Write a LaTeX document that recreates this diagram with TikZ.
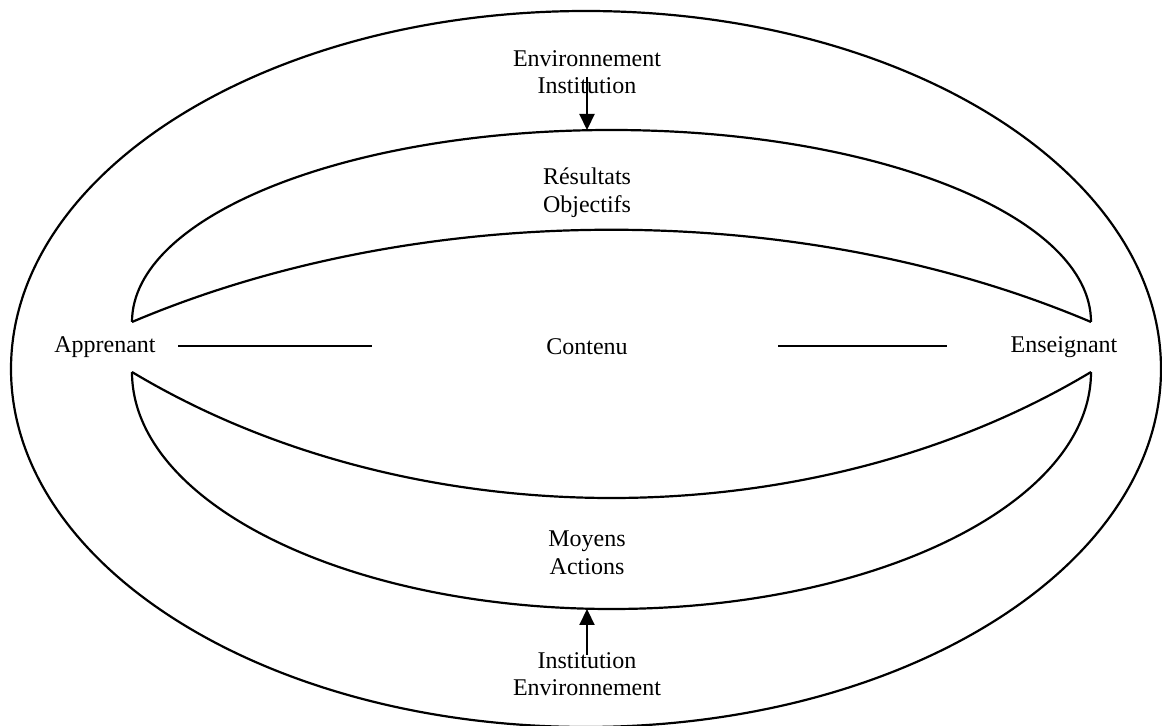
\documentclass[tikz,border=0pt]{standalone}
\usepackage{fontspec}
\setmainfont{Liberation Serif}
\usetikzlibrary{arrows.meta}
\begin{document}
\begin{tikzpicture}[x=0.5pt,y=-0.5pt,line width=1.1pt,
  lbl/.style={font=\fontsize{12}{13.8}\selectfont,align=center,inner sep=0pt},
  flow/.style={-{Triangle[width=7.5pt,length=8pt]}}]
\useasboundingbox (0,0) rectangle (1162,726);
\clip (0,0) rectangle (1162,726);

% outer ring: the environment
\draw (586,369) ellipse [x radius=575, y radius=358];

% tips of the two inner lenses
\coordinate (UL) at (132,322);
\coordinate (UR) at (1091,322);
\coordinate (LL) at (132,372);
\coordinate (LR) at (1091,372);

% upper lens
\draw (UL) arc[start angle=180, end angle=360, x radius=479.5, y radius=192];
\draw (UL) .. controls (422,199) and (801,199) .. (UR);

% lower lens
\draw (LL) arc[start angle=180, end angle=0, x radius=479.5, y radius=237];
\draw (LL) .. controls (412,540) and (811,540) .. (LR);

% labels
\node[lbl] (env1) at (587,72) {Environnement\\Institution};
\node[lbl] (res)  at (587,193) {Résultats\\Objectifs};
\node[lbl] (app)  at (105,347) {Apprenant};
\node[lbl] (cont) at (587,347) {Contenu};
\node[lbl] (ens)  at (1064,347) {Enseignant};
\node[lbl] (moy)  at (587,553) {Moyens\\Actions};
\node[lbl] (env2) at (587,674) {Institution\\Environnement};

% horizontal links
\coordinate (h1) at (178,346);
\coordinate (h2) at (372,346);
\coordinate (h3) at (778,346);
\coordinate (h4) at (947,346);
\draw (h1) -- (h2);
\draw (h3) -- (h4);

% influence arrows
\coordinate (a1) at (587,77);
\coordinate (a1e) at (587,130);
\coordinate (a2) at (587,655);
\coordinate (a2e) at (587,609);
\draw[flow] (a1) -- (a1e);
\draw[flow] (a2) -- (a2e);
\end{tikzpicture}
\end{document}
